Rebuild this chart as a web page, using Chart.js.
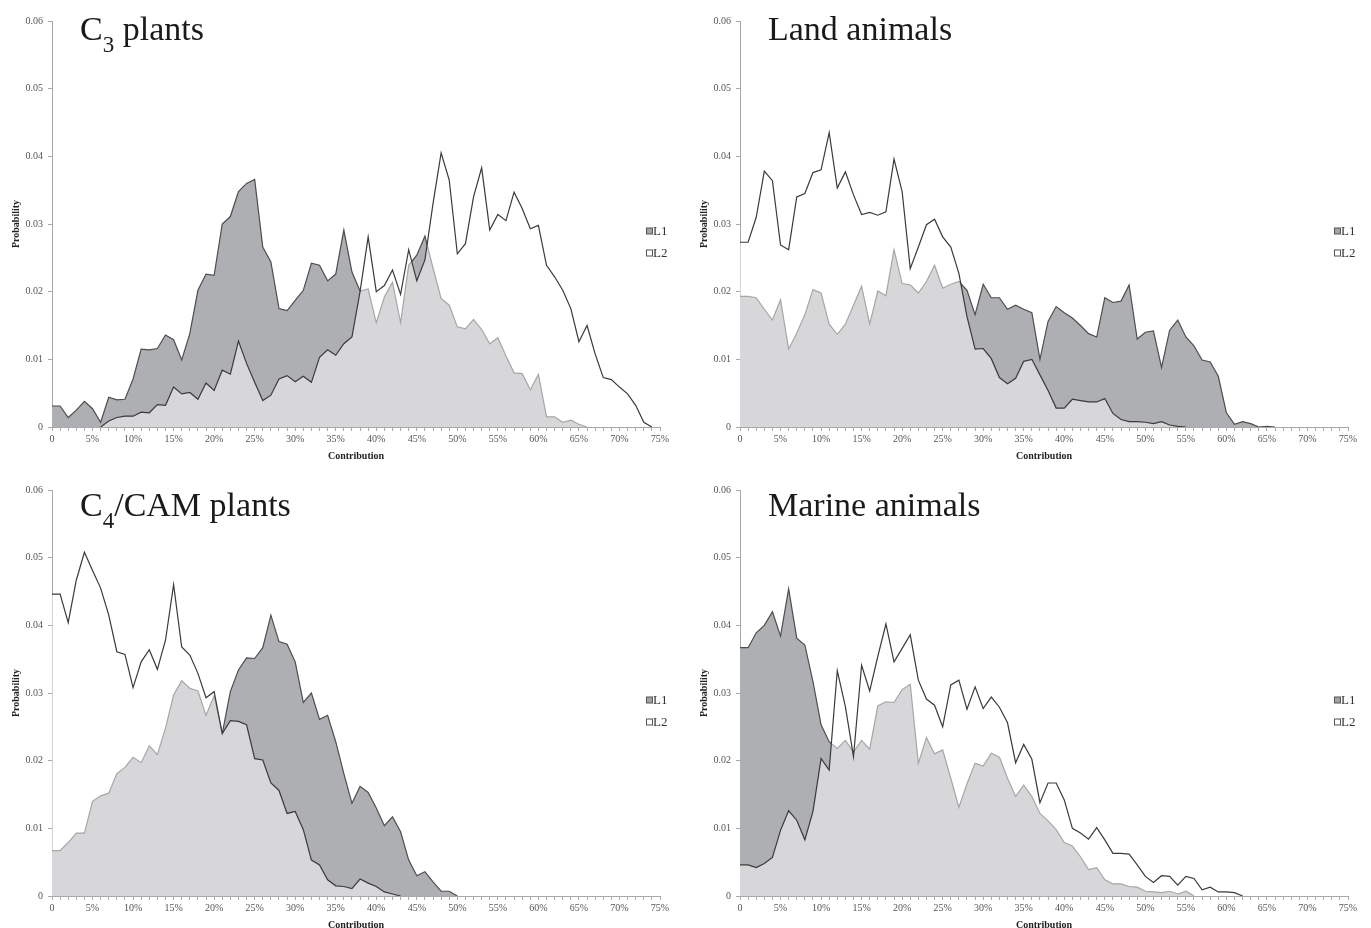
<!DOCTYPE html>
<html>
<head>
<meta charset="utf-8">
<script src="https://cdn.jsdelivr.net/npm/chart.js@4/dist/chart.umd.min.js"></script>
<style>
  html, body { margin:0; padding:0; background:#fff; }
  #wrap { position:relative; width:1371px; height:928px; overflow:hidden; }
  .panel { position:absolute; width:686px; height:464px; }
  .panel canvas { position:absolute; left:0; top:0; }
  .ttl { position:absolute; left:80px; top:12px; font-family:'Liberation Serif', 'Times New Roman', serif; font-size:34px; line-height:34px; color:#1a1a1a; white-space:nowrap; }
  .low .ttl { top:19px; }
  .sub { font-size:23px; position:relative; top:12px; }
</style>
</head>
<body>
<div id="wrap">
  <div class="panel" style="left:0;top:0"><canvas id="c1" width="686" height="464"></canvas><div class="ttl">C<span class="sub">3</span> plants</div></div>
  <div class="panel" style="left:688px;top:0"><canvas id="c2" width="686" height="464"></canvas><div class="ttl">Land animals</div></div>
  <div class="panel low" style="left:0;top:469px"><canvas id="c3" width="686" height="464"></canvas><div class="ttl">C<span class="sub">4</span>/CAM plants</div></div>
  <div class="panel low" style="left:688px;top:469px"><canvas id="c4" width="686" height="464"></canvas><div class="ttl">Marine animals</div></div>
</div>
<script>
// x categories: contribution (%)
const contribution = [0,1,2,3,4,5,6,7,8,9,10,11,12,13,14,15,16,17,18,19,20,21,22,23,24,25,26,27,28,29,30,31,32,33,34,35,36,37,38,39,40,41,42,43,44,45,46,47,48,49,50,51,52,53,54,55,56,57,58,59,60,61,62,63,64,65,66,67,68,69,70,71,72,73,74,75];
const seriesNames = ['L1', 'L2'];

// C3 plants
const c3L1 = [0.0031,0.0031,0.0014,0.0025,0.0038,0.0027,0.0007,0.0044,0.0040,0.0041,0.0071,0.0115,0.0114,0.0116,0.0136,0.0129,0.0099,0.0138,0.0202,0.0226,0.0224,0.0300,0.0311,0.0348,0.0360,0.0366,0.0266,0.0244,0.0175,0.0172,0.0187,0.0202,0.0242,0.0239,0.0216,0.0226,0.0291,0.0229,0.0201,0.0204,0.0154,0.0192,0.0214,0.0154,0.0239,0.0254,0.0282,0.0235,0.0190,0.0180,0.0148,0.0145,0.0159,0.0144,0.0123,0.0132,0.0105,0.0080,0.0079,0.0055,0.0078,0.0015,0.0015,0.0007,0.0010,0.0004,0];
const c3L2 = [null,null,null,null,null,null,0,0.0009,0.0014,0.0016,0.0016,0.0022,0.0021,0.0033,0.0032,0.0059,0.0049,0.0051,0.0041,0.0065,0.0054,0.0084,0.0078,0.0127,0.0094,0.0066,0.0039,0.0047,0.0071,0.0076,0.0067,0.0075,0.0066,0.0103,0.0114,0.0106,0.0123,0.0133,0.0200,0.0281,0.0200,0.0209,0.0232,0.0196,0.0262,0.0216,0.0247,0.0330,0.0405,0.0365,0.0256,0.0271,0.0340,0.0383,0.0291,0.0314,0.0305,0.0347,0.0323,0.0293,0.0298,0.0239,0.0222,0.0202,0.0175,0.0126,0.0150,0.0108,0.0073,0.0070,0.0059,0.0049,0.0032,0.0007,0];

// Land animals
const landL1 = [0.0193,0.0193,0.0191,0.0174,0.0158,0.0188,0.0115,0.0139,0.0166,0.0203,0.0198,0.0152,0.0137,0.0152,0.0180,0.0208,0.0152,0.0201,0.0194,0.0262,0.0212,0.0210,0.0198,0.0215,0.0239,0.0205,0.0211,0.0215,0.0202,0.0166,0.0211,0.0191,0.0191,0.0174,0.0180,0.0174,0.0169,0.0100,0.0156,0.0178,0.0169,0.0161,0.0150,0.0138,0.0133,0.0191,0.0184,0.0186,0.0210,0.0130,0.0140,0.0142,0.0088,0.0143,0.0158,0.0133,0.0120,0.0099,0.0096,0.0075,0.0021,0.0004,0.0008,0.0005,0,0.0001,0];
const landL2 = [0.0273,0.0273,0.0310,0.0378,0.0364,0.0269,0.0262,0.0340,0.0345,0.0376,0.0380,0.0435,0.0353,0.0377,0.0343,0.0314,0.0317,0.0313,0.0318,0.0396,0.0348,0.0234,0.0266,0.0299,0.0307,0.0281,0.0266,0.0227,0.0163,0.0115,0.0116,0.0101,0.0073,0.0064,0.0072,0.0097,0.0100,0.0077,0.0054,0.0028,0.0028,0.0041,0.0039,0.0037,0.0037,0.0042,0.0020,0.0011,0.0008,0.0008,0.0007,0.0005,0.0008,0.0003,0.0001,0];

// C4/CAM plants
const c4L1 = [0.0067,0.0067,0.0079,0.0093,0.0093,0.0140,0.0148,0.0152,0.0181,0.0190,0.0205,0.0197,0.0222,0.0209,0.0248,0.0297,0.0318,0.0307,0.0303,0.0267,0.0296,0.0240,0.0302,0.0334,0.0352,0.0351,0.0367,0.0415,0.0376,0.0372,0.0346,0.0286,0.0300,0.0261,0.0267,0.0228,0.0181,0.0137,0.0162,0.0153,0.0130,0.0104,0.0117,0.0095,0.0053,0.0030,0.0036,0.0021,0.0007,0.0007,0];
const c4L2 = [0.0446,0.0446,0.0404,0.0467,0.0508,0.0481,0.0455,0.0415,0.0361,0.0357,0.0308,0.0346,0.0364,0.0335,0.0378,0.0460,0.0368,0.0356,0.0329,0.0293,0.0302,0.0240,0.0259,0.0258,0.0253,0.0203,0.0201,0.0167,0.0156,0.0122,0.0125,0.0098,0.0053,0.0046,0.0024,0.0015,0.0014,0.0011,0.0025,0.0019,0.0014,0.0006,0.0003,0];

// Marine animals
const marineL1 = [0.0367,0.0367,0.0389,0.0400,0.0420,0.0384,0.0454,0.0381,0.0371,0.0317,0.0253,0.0228,0.0218,0.0230,0.0213,0.0230,0.0217,0.0281,0.0287,0.0286,0.0305,0.0313,0.0196,0.0234,0.0210,0.0216,0.0174,0.0131,0.0166,0.0196,0.0192,0.0211,0.0205,0.0174,0.0147,0.0164,0.0147,0.0122,0.0111,0.0098,0.0079,0.0074,0.0058,0.0039,0.0042,0.0024,0.0018,0.0018,0.0014,0.0013,0.0007,0.0006,0.0005,0.0007,0.0003,0.0007,0];
const marineL2 = [0.0046,0.0046,0.0042,0.0048,0.0057,0.0097,0.0126,0.0112,0.0083,0.0125,0.0203,0.0186,0.0333,0.0280,0.0206,0.0341,0.0303,0.0354,0.0402,0.0346,0.0366,0.0386,0.0319,0.0291,0.0282,0.0250,0.0312,0.0319,0.0276,0.0309,0.0277,0.0294,0.0279,0.0256,0.0197,0.0224,0.0202,0.0138,0.0167,0.0167,0.0142,0.0100,0.0093,0.0084,0.0101,0.0083,0.0063,0.0063,0.0062,0.0046,0.0029,0.0020,0.0030,0.0029,0.0016,0.0029,0.0026,0.0009,0.0013,0.0006,0.0006,0.0005,0];

const panels = [
  {id:'c1', l1:c3L1, l2:c3L2},
  {id:'c2', l1:landL1, l2:landL2},
  {id:'c3', l1:c4L1, l2:c4L2},
  {id:'c4', l1:marineL1, l2:marineL2}
];

const FONT = "'Liberation Serif', 'Times New Roman', serif";
const L1_FILL = '#aeafb2';
const L2_FILL = 'rgba(255,255,255,0.5)';
const AXIS = '#a8a8a8';

Chart.defaults.font.family = FONT;

const sideLegend = {
  id: 'sideLegend',
  afterDraw(chart) {
    const ctx = chart.ctx;
    const bx = chart.chartArea.right - 13.5;
    const ys = [231, 253];
    ctx.save();
    chart.data.datasets.forEach((ds, i) => {
      const y = ys[i];
      ctx.fillStyle = i === 0 ? '#a2a3a6' : '#ffffff';
      ctx.fillRect(bx, y - 3, 6, 6);
      ctx.strokeStyle = '#555';
      ctx.lineWidth = 1;
      ctx.strokeRect(bx, y - 3, 6, 6);
      ctx.fillStyle = '#333';
      ctx.font = '13px ' + FONT;
      ctx.textBaseline = 'middle';
      ctx.textAlign = 'left';
      ctx.fillText(ds.label, bx + 6.5, y + 1);
    });
    ctx.restore();
  }
};

panels.forEach(p => {
  new Chart(document.getElementById(p.id), {
    type: 'line',
    data: {
      labels: contribution,
      datasets: [
        {label: seriesNames[0], data: p.l1, fill: 'origin', backgroundColor: L1_FILL, borderColor: '#4d4d4d', borderWidth: 1.2, pointRadius: 0, tension: 0, order: 2},
        {label: seriesNames[1], data: p.l2, fill: 'origin', backgroundColor: L2_FILL, borderColor: '#3a3a3a', borderWidth: 1.2, pointRadius: 0, tension: 0, order: 1}
      ]
    },
    options: {
      responsive: false,
      animation: false,
      events: [],
      layout: {padding: {top: 21, right: 26, left: 0, bottom: 0}},
      plugins: {legend: {display: false}, tooltip: {enabled: false}},
      scales: {
        x: {
          type: 'linear', min: 0, max: 75,
          ticks: {stepSize: 1, autoSkip: false, maxRotation: 0, minRotation: 0, padding: 2, color: '#555',
            font: {family: FONT, size: 10},
            callback: v => (v % 5 === 0 ? (v === 0 ? '0' : v + '%') : '')},
          grid: {drawOnChartArea: false, drawTicks: true, tickLength: 4, color: AXIS},
          border: {color: AXIS, width: 1},
          title: {display: true, text: 'Contribution', color: '#222', font: {family: FONT, size: 10, weight: 'bold'}, padding: {top: 0, bottom: 2}},
          afterFit: s => { s.height = 37; }
        },
        y: {
          min: 0, max: 0.06,
          ticks: {stepSize: 0.01, padding: 5, color: '#555', font: {family: FONT, size: 10},
            callback: v => (Math.abs(v) < 1e-9 ? '0' : Number(v).toFixed(2))},
          grid: {drawOnChartArea: false, drawTicks: true, tickLength: 4, color: AXIS},
          border: {color: AXIS, width: 1},
          title: {display: true, text: 'Probability', color: '#222', font: {family: FONT, size: 10, weight: 'bold'}, padding: {top: 10, bottom: 0}},
          afterFit: s => { s.width = 52; }
        }
      }
    },
    plugins: [sideLegend]
  });
});
</script>
</body>
</html>
